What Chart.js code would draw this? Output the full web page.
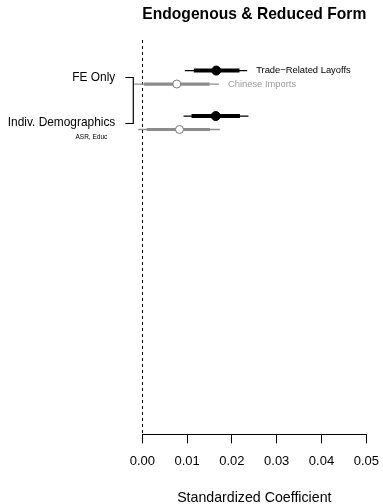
<!DOCTYPE html>
<html>
<head>
<meta charset="utf-8">
<script src="https://cdn.jsdelivr.net/npm/chart.js@4.4.1/dist/chart.umd.min.js"></script>
<style>
html,body{margin:0;padding:0;background:#fff;}
#wrap{width:383px;height:504px;position:relative;}
</style>
</head>
<body>
<div id="wrap"><canvas id="c" width="383" height="504"></canvas></div>
<script>
// ---- data ----
const chartTitle = 'Endogenous & Reduced Form';
const xAxisTitle = 'Standardized Coefficient';
const xTicks = [0.00, 0.01, 0.02, 0.03, 0.04, 0.05];
const models = ['FE Only', 'Indiv. Demographics'];
const modelNotes = ['', 'ASR, Educ'];
const seriesNames = ['Trade\u2212Related Layoffs', 'Chinese Imports'];

const layoffsEst  = [0.0165, 0.0164];
const layoffsLo95 = [0.0095, 0.0092];
const layoffsHi95 = [0.0234, 0.0237];
const layoffsLo90 = [0.0115, 0.0110];
const layoffsHi90 = [0.0217, 0.0218];

const importsEst  = [0.0077, 0.0083];
const importsLo95 = [-0.0018, -0.0009];
const importsHi95 = [0.0171, 0.0173];
const importsLo90 = [0.0004, 0.0010];
const importsHi90 = [0.0150, 0.0151];

// ---- layout helpers ----
const FONT = '"Liberation Sans", Arial, Helvetica, sans-serif';
const OFFSET = 0.148;
const rowY = (i, s) => (i + 1) + (s === 0 ? -OFFSET : OFFSET);

const datasets = [];
const series = [
  {est: layoffsEst, lo95: layoffsLo95, hi95: layoffsHi95, lo90: layoffsLo90, hi90: layoffsHi90,
   line: '#000000', thick: 4, point: '#000000', pointBorder: '#000000', r: 4.5},
  {est: importsEst, lo95: importsLo95, hi95: importsHi95, lo90: importsLo90, hi90: importsHi90,
   line: '#8c8c8c', thick: 3.2, point: '#ffffff', pointBorder: '#777777', r: 4}
];
// thin 95% lines
series.forEach((s, si) => {
  models.forEach((m, i) => {
    datasets.push({type: 'scatter', showLine: true, clip: false, order: 3,
      data: [{x: s.lo95[i], y: rowY(i, si)}, {x: s.hi95[i], y: rowY(i, si)}],
      borderColor: s.line, borderWidth: 1.3, pointRadius: 0, borderCapStyle: 'butt'});
  });
});
// thick 90% lines
series.forEach((s, si) => {
  models.forEach((m, i) => {
    datasets.push({type: 'scatter', showLine: true, clip: false, order: 2,
      data: [{x: s.lo90[i], y: rowY(i, si)}, {x: s.hi90[i], y: rowY(i, si)}],
      borderColor: s.line, borderWidth: s.thick, pointRadius: 0, borderCapStyle: 'butt'});
  });
});
// points
series.forEach((s, si) => {
  datasets.push({type: 'scatter', clip: false, order: 1,
    data: models.map((m, i) => ({x: s.est[i], y: rowY(i, si)})),
    backgroundColor: s.point, borderColor: s.pointBorder, borderWidth: 1,
    pointRadius: s.r, pointHoverRadius: s.r});
});

const annot = {
  id: 'annot',
  beforeDatasetsDraw(chart) {
    const {ctx, chartArea, scales: {x}} = chart;
    const x0 = Math.round(x.getPixelForValue(0)) + 0.5;
    ctx.save();
    ctx.strokeStyle = '#000';
    ctx.lineWidth = 1;
    ctx.setLineDash([3, 3]);
    ctx.beginPath();
    ctx.moveTo(x0, chartArea.top);
    ctx.lineTo(x0, chartArea.bottom);
    ctx.stroke();
    ctx.restore();
  },
  afterDatasetsDraw(chart) {
    const {ctx, chartArea, scales: {x, y}} = chart;
    ctx.save();
    // model labels
    const labelRight = chartArea.left - 27;
    ctx.fillStyle = '#000';
    ctx.textAlign = 'right';
    ctx.textBaseline = 'middle';
    models.forEach((m, i) => {
      const py = y.getPixelForValue(i + 1);
      ctx.font = '11.9px ' + FONT;
      ctx.fillText(m, labelRight, py);
      if (modelNotes[i]) {
        ctx.font = '6.5px ' + FONT;
        ctx.fillText(modelNotes[i], labelRight - 8, py + 14.5);
      }
    });
    // bracket
    const bx = chartArea.left - 9;
    const y1 = Math.round(y.getPixelForValue(1)) + 0.5;
    const y2 = Math.round(y.getPixelForValue(models.length)) + 0.5;
    ctx.strokeStyle = '#000';
    ctx.lineWidth = 1.2;
    ctx.beginPath();
    ctx.moveTo(bx - 8, y1);
    ctx.lineTo(bx, y1);
    ctx.lineTo(bx, y2);
    ctx.lineTo(bx - 8, y2);
    ctx.stroke();
    // series labels next to first model
    ctx.textAlign = 'left';
    ctx.font = '9.4px ' + FONT;
    ctx.fillStyle = '#000';
    ctx.fillText(seriesNames[0], x.getPixelForValue(layoffsHi95[0]) + 9, y.getPixelForValue(rowY(0, 0)));
    ctx.fillStyle = '#9a9a9a';
    ctx.fillText(seriesNames[1], x.getPixelForValue(importsHi95[0]) + 9, y.getPixelForValue(rowY(0, 1)));
    ctx.restore();
  }
};

new Chart(document.getElementById('c'), {
  type: 'scatter',
  data: {datasets},
  options: {
    responsive: false,
    animation: false,
    devicePixelRatio: 1,
    layout: {padding: {left: 142.3, right: 16.7, top: 0, bottom: 0}},
    plugins: {
      legend: {display: false},
      tooltip: {enabled: false},
      title: {
        display: true, text: chartTitle, color: '#000',
        font: {family: FONT, size: 17, weight: 'bold', lineHeight: 1.2},
        padding: {top: 4.3, bottom: 15.3}
      }
    },
    scales: {
      x: {
        type: 'linear', min: 0, max: 0.05,
        afterBuildTicks: (axis) => { axis.ticks = xTicks.map(v => ({value: v})); },
        afterFit: (axis) => { axis.paddingLeft = 0; axis.paddingRight = 0; },
        ticks: {
          color: '#000', padding: 10,
          font: {family: FONT, size: 13},
          callback: (v) => Number(v).toFixed(2)
        },
        grid: {display: true, drawOnChartArea: false, drawTicks: true, tickLength: 9, color: '#000', lineWidth: 1},
        border: {display: true, color: '#000', width: 1},
        title: {display: true, text: xAxisTitle, color: '#000',
          font: {family: FONT, size: 14.2}, padding: {top: 11, bottom: -3}}
      },
      y: {
        type: 'linear', reverse: true, min: 0.18, max: 8.85, display: false
      }
    }
  },
  plugins: [annot]
});
</script>
</body>
</html>
